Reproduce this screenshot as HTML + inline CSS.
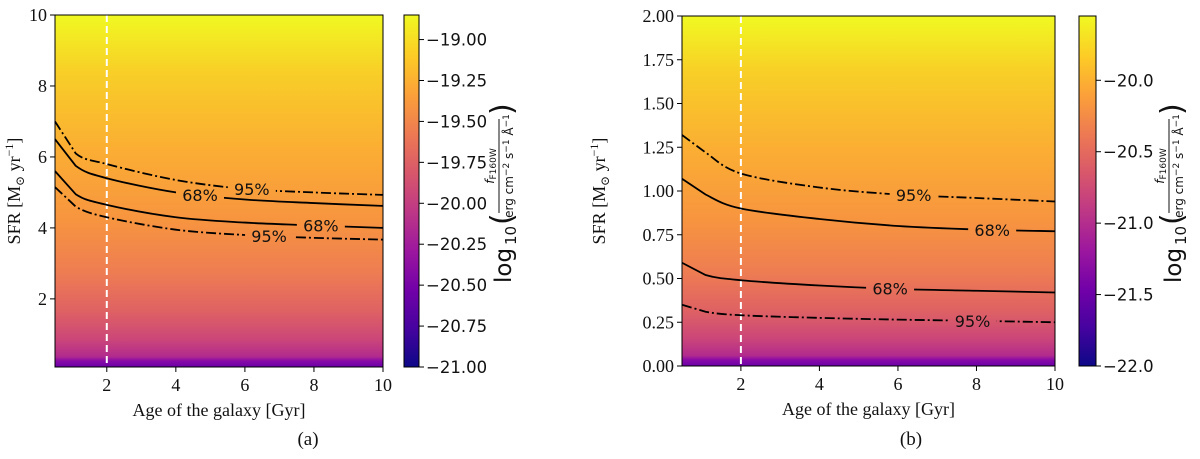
<!DOCTYPE html>
<html><head><meta charset="utf-8"><style>
body{margin:0;background:#fff;width:1200px;height:459px;overflow:hidden}
svg{display:block}
.ser{font-family:"Liberation Serif","DejaVu Serif",serif;font-size:18px;fill:#111}
.san{font-family:"DejaVu Sans","Liberation Sans",sans-serif;font-size:16.5px;fill:#111}
.lab{font-family:"DejaVu Sans","Liberation Sans",sans-serif;font-size:16px;fill:#111}
</style></head><body>
<svg id="fig" width="1200" height="459" xmlns="http://www.w3.org/2000/svg">
<defs>
<linearGradient id="plasmaV" x1="0" y1="1" x2="0" y2="0">
<stop offset="0" stop-color="#0d0887"/><stop offset="0.11" stop-color="#46039f"/><stop offset="0.22" stop-color="#7201a8"/><stop offset="0.33" stop-color="#9c179e"/><stop offset="0.44" stop-color="#bd3786"/><stop offset="0.55" stop-color="#d8576b"/><stop offset="0.66" stop-color="#ed7953"/><stop offset="0.77" stop-color="#fb9f3a"/><stop offset="0.88" stop-color="#fdca26"/><stop offset="1" stop-color="#f0f921"/>
</linearGradient>
<linearGradient id="field" x1="0" y1="1" x2="0" y2="0">
<stop offset="0" stop-color="#6a00a8"/><stop offset="0.018" stop-color="#8a0aa5"/><stop offset="0.03" stop-color="#b22b8d"/><stop offset="0.08" stop-color="#cc4778"/><stop offset="0.16" stop-color="#df6263"/><stop offset="0.27" stop-color="#ee7d52"/><stop offset="0.42" stop-color="#f7953f"/><stop offset="0.62" stop-color="#fbae33"/><stop offset="0.84" stop-color="#f8cf27"/><stop offset="1" stop-color="#f0f921"/>
</linearGradient>
</defs>
</svg>
<script>
const ages = [0.5, 1.1, 2, 4, 6, 8, 10];
const a95Upper = [7.0, 6.1, 5.8, 5.35, 5.1, 5.0, 4.93];
const a68Upper = [6.5, 5.75, 5.4, 5.0, 4.8, 4.7, 4.62];
const a68Lower = [5.6, 4.95, 4.65, 4.3, 4.15, 4.07, 4.0];
const a95Lower = [5.15, 4.6, 4.3, 3.95, 3.8, 3.72, 3.67];
const b95Upper = [1.32, 1.22, 1.1, 1.02, 0.98, 0.96, 0.94];
const b68Upper = [1.07, 0.98, 0.9, 0.84, 0.8, 0.78, 0.77];
const b68Lower = [0.59, 0.52, 0.49, 0.46, 0.44, 0.43, 0.42];
const b95Lower = [0.35, 0.31, 0.29, 0.275, 0.265, 0.258, 0.25];
const aLabelX = [6.2, 4.7, 8.2, 6.7];
const bLabelX = [6.4, 8.4, 5.8, 7.9];
const xTicks = [2, 4, 6, 8, 10];
const aYTicks = [2, 4, 6, 8, 10];
const bYTicks = [0, 0.25, 0.5, 0.75, 1.0, 1.25, 1.5, 1.75, 2.0];
const aCbTicks = [-19.0, -19.25, -19.5, -19.75, -20.0, -20.25, -20.5, -20.75, -21.0];
const bCbTicks = [-20.0, -20.5, -21.0, -21.5, -22.0];

const svg = document.getElementById('fig');
const NS = 'http://www.w3.org/2000/svg';
function mk(tag, attrs, parent) {
  const e = document.createElementNS(NS, tag);
  for (const k in attrs) e.setAttribute(k, attrs[k]);
  (parent || svg).appendChild(e);
  return e;
}
function txt(s, attrs, parent) { const t = mk('text', attrs, parent); t.textContent = s; return t; }
function smooth(p) {
  let d = 'M' + p[0][0] + ',' + p[0][1];
  for (let i = 0; i < p.length - 1; i++) {
    const p0 = p[Math.max(0, i - 1)], p1 = p[i], p2 = p[i + 1], p3 = p[Math.min(p.length - 1, i + 2)];
    const k = i === 0 ? 0 : 1, k2 = i === 0 ? 0 : 1;
    const c1 = [p1[0] + k * (p2[0] - p0[0]) / 6, p1[1] + k * (p2[1] - p0[1]) / 6];
    const c2 = [p2[0] - k2 * (p3[0] - p1[0]) / 6, p2[1] - k2 * (p3[1] - p1[1]) / 6];
    d += ' C' + c1.join(',') + ' ' + c2.join(',') + ' ' + p2.join(',');
  }
  return d;
}
let mid = 0;
const defs = svg.querySelector('defs');
function panel(o) {
  const g = mk('g', {});
  
  
  const X = v => o.x0 + (v - o.xmin) / (o.xmax - o.xmin) * (o.x1 - o.x0);
  const Y = v => o.y1 - (v - o.ymin) / (o.ymax - o.ymin) * (o.y1 - o.y0);
  const f = mk('rect', {x: o.x0, y: o.y0, width: o.x1 - o.x0, height: o.y1 - o.y0, fill: 'url(#field)'}, g);
  
  
  const vl = mk('line', {x1: X(2), x2: X(2), y1: o.y0, y2: o.y1, stroke: '#fff', 'stroke-width': 2, 'stroke-dasharray': '7,4'}, g);
  
  
  const series = [[o.s[0], '95%', true], [o.s[1], '68%', false], [o.s[2], '68%', false], [o.s[3], '95%', true]];
  series.forEach((sr, i) => {
    const vals = sr[0];
    const lx = o.lx[i];
    let ly = vals[vals.length - 1];
    for (let j = 0; j < ages.length - 1; j++) if (lx >= ages[j] && lx <= ages[j + 1]) { const t = (lx - ages[j]) / (ages[j + 1] - ages[j]); ly = vals[j] + t * (vals[j + 1] - vals[j]); }
    const maskId = 'm' + (mid++);
    const mask = mk('mask', {id: maskId, maskUnits: 'userSpaceOnUse', x: 0, y: 0, width: 1200, height: 459}, defs);
    mk('rect', {x: 0, y: 0, width: 1200, height: 459, fill: '#fff'}, mask);
    mk('rect', {x: X(lx) - 24, y: Y(ly) - 10, width: 48, height: 20, fill: '#000'}, mask);
    const pts = ages.map((a, j) => [X(a), Y(vals[j])]);
    const p = mk('path', {d: smooth(pts), fill: 'none', stroke: '#000', 'stroke-width': 1.8, 'stroke-dasharray': sr[2] ? '10,3,2,3' : 'none', mask: 'url(#' + maskId + ')'}, g);
    
    
    const lt = txt(sr[1], {x: X(lx), y: Y(ly) + 6, 'text-anchor': 'middle', class: 'lab'}, g);
    
    
  });
  const fr = mk('rect', {x: o.x0, y: o.y0, width: o.x1 - o.x0, height: o.y1 - o.y0, fill: 'none', stroke: '#000', 'stroke-width': 1}, g);
  
  
  xTicks.forEach(v => {
    mk('line', {x1: X(v), x2: X(v), y1: o.y1, y2: o.y1 + 5, stroke: '#000'}, g);
    const t = txt(String(v), {x: X(v), y: o.y1 + 24, 'text-anchor': 'middle', class: 'ser'}, g);
    
    
  });
  o.yt.forEach(v => {
    mk('line', {x1: o.x0 - 5, x2: o.x0, y1: Y(v), y2: Y(v), stroke: '#000'}, g);
    const t = txt(o.yfmt(v), {x: o.x0 - 8, y: Y(v) + 6, 'text-anchor': 'end', class: 'ser'}, g);
    
    
  });
  const xt = txt('Age of the galaxy [Gyr]', {x: (o.x0 + o.x1) / 2, y: o.y1 + 49, 'text-anchor': 'middle', class: 'ser'}, g);
  
  
  const yt = mk('text', {transform: `translate(${o.ytx},${(o.y0 + o.y1) / 2}) rotate(-90)`, 'text-anchor': 'middle', class: 'ser'}, g);
  yt.innerHTML = 'SFR [M<tspan font-size="12" dy="4">⊙</tspan><tspan dy="-4"> yr</tspan><tspan font-size="12" dy="-7">−1</tspan><tspan dy="7">]</tspan>';
  
  
  const cb = mk('g', {}, g);
  
  
  mk('rect', {x: o.cx, y: o.y0, width: o.cw, height: o.y1 - o.y0, fill: 'url(#plasmaV)', stroke: '#000', 'stroke-width': 1}, cb);
  const C = v => o.y1 - (v - o.cmin) / (o.cmax - o.cmin) * (o.y1 - o.y0);
  o.ct.forEach(v => {
    mk('line', {x1: o.cx + o.cw, x2: o.cx + o.cw + 5, y1: C(v), y2: C(v), stroke: '#000'}, cb);
    const t = txt('−' + Math.abs(v).toFixed(o.cdec), {x: o.cx + o.cw + 7, y: C(v) + 6, class: 'san'}, cb);
    
    
  });
  const ct = mk('g', {transform: `translate(${o.ctx},${(o.y0 + o.y1) / 2}) rotate(-90)`}, cb);
  
  
  const F = 'DejaVu Sans,sans-serif';
  txt('log', {x: -92, y: 9, 'font-family': F, 'font-size': 23, fill: '#111'}, ct);
  txt('10', {x: -54, y: 14, 'font-family': F, 'font-size': 15, fill: '#111'}, ct);
  txt('(', {x: -34, y: 10, 'font-family': F, 'font-size': 30, fill: '#111'}, ct);
  mk('line', {x1: -22, x2: 72, y1: -3, y2: -3, stroke: '#111', 'stroke-width': 1}, ct);
  const num = txt('', {x: 25, y: -8, 'text-anchor': 'middle', 'font-family': F, 'font-size': 12, fill: '#111'}, ct);
  num.innerHTML = '<tspan font-style="italic">f</tspan><tspan font-size="9" dy="2">F160W</tspan>';
  const den = txt('', {x: 25, y: 11, 'text-anchor': 'middle', 'font-family': F, 'font-size': 12, fill: '#111'}, ct);
  den.innerHTML = 'erg cm<tspan font-size="9" dy="-4">−2</tspan><tspan dy="4"> s</tspan><tspan font-size="9" dy="-4">−1</tspan><tspan dy="4"> Å</tspan><tspan font-size="9" dy="-4">−1</tspan>';
  txt(')', {x: 76, y: 10, 'font-family': F, 'font-size': 30, fill: '#111'}, ct);
  const cap = txt(o.cap, {x: o.capx, y: 445, 'text-anchor': 'middle', 'font-family': 'Liberation Serif,serif', 'font-size': 19, fill: '#111'}, g);
  
  
}

panel({name: 'panel-a', x0: 55, x1: 383, y0: 15, y1: 367, xmin: 0.5, xmax: 10, ymin: 0.08, ymax: 10,
  s: [a95Upper, a68Upper, a68Lower, a95Lower], lx: aLabelX, yt: aYTicks, yfmt: v => String(v), ytx: 20,
  cx: 404, cw: 15, cmin: -21.0, cmax: -18.85, ct: aCbTicks, cdec: 2, ctx: 502, cap: '(a)', capx: 308});
panel({name: 'panel-b', x0: 682, x1: 1055, y0: 16, y1: 366, xmin: 0.5, xmax: 10, ymin: 0, ymax: 2,
  s: [b95Upper, b68Upper, b68Lower, b95Lower], lx: bLabelX, yt: bYTicks, yfmt: v => v.toFixed(2), ytx: 605,
  cx: 1079, cw: 17, cmin: -22.0, cmax: -19.55, ct: bCbTicks, cdec: 1, ctx: 1172, cap: '(b)', capx: 911});
</script>
</body></html>
